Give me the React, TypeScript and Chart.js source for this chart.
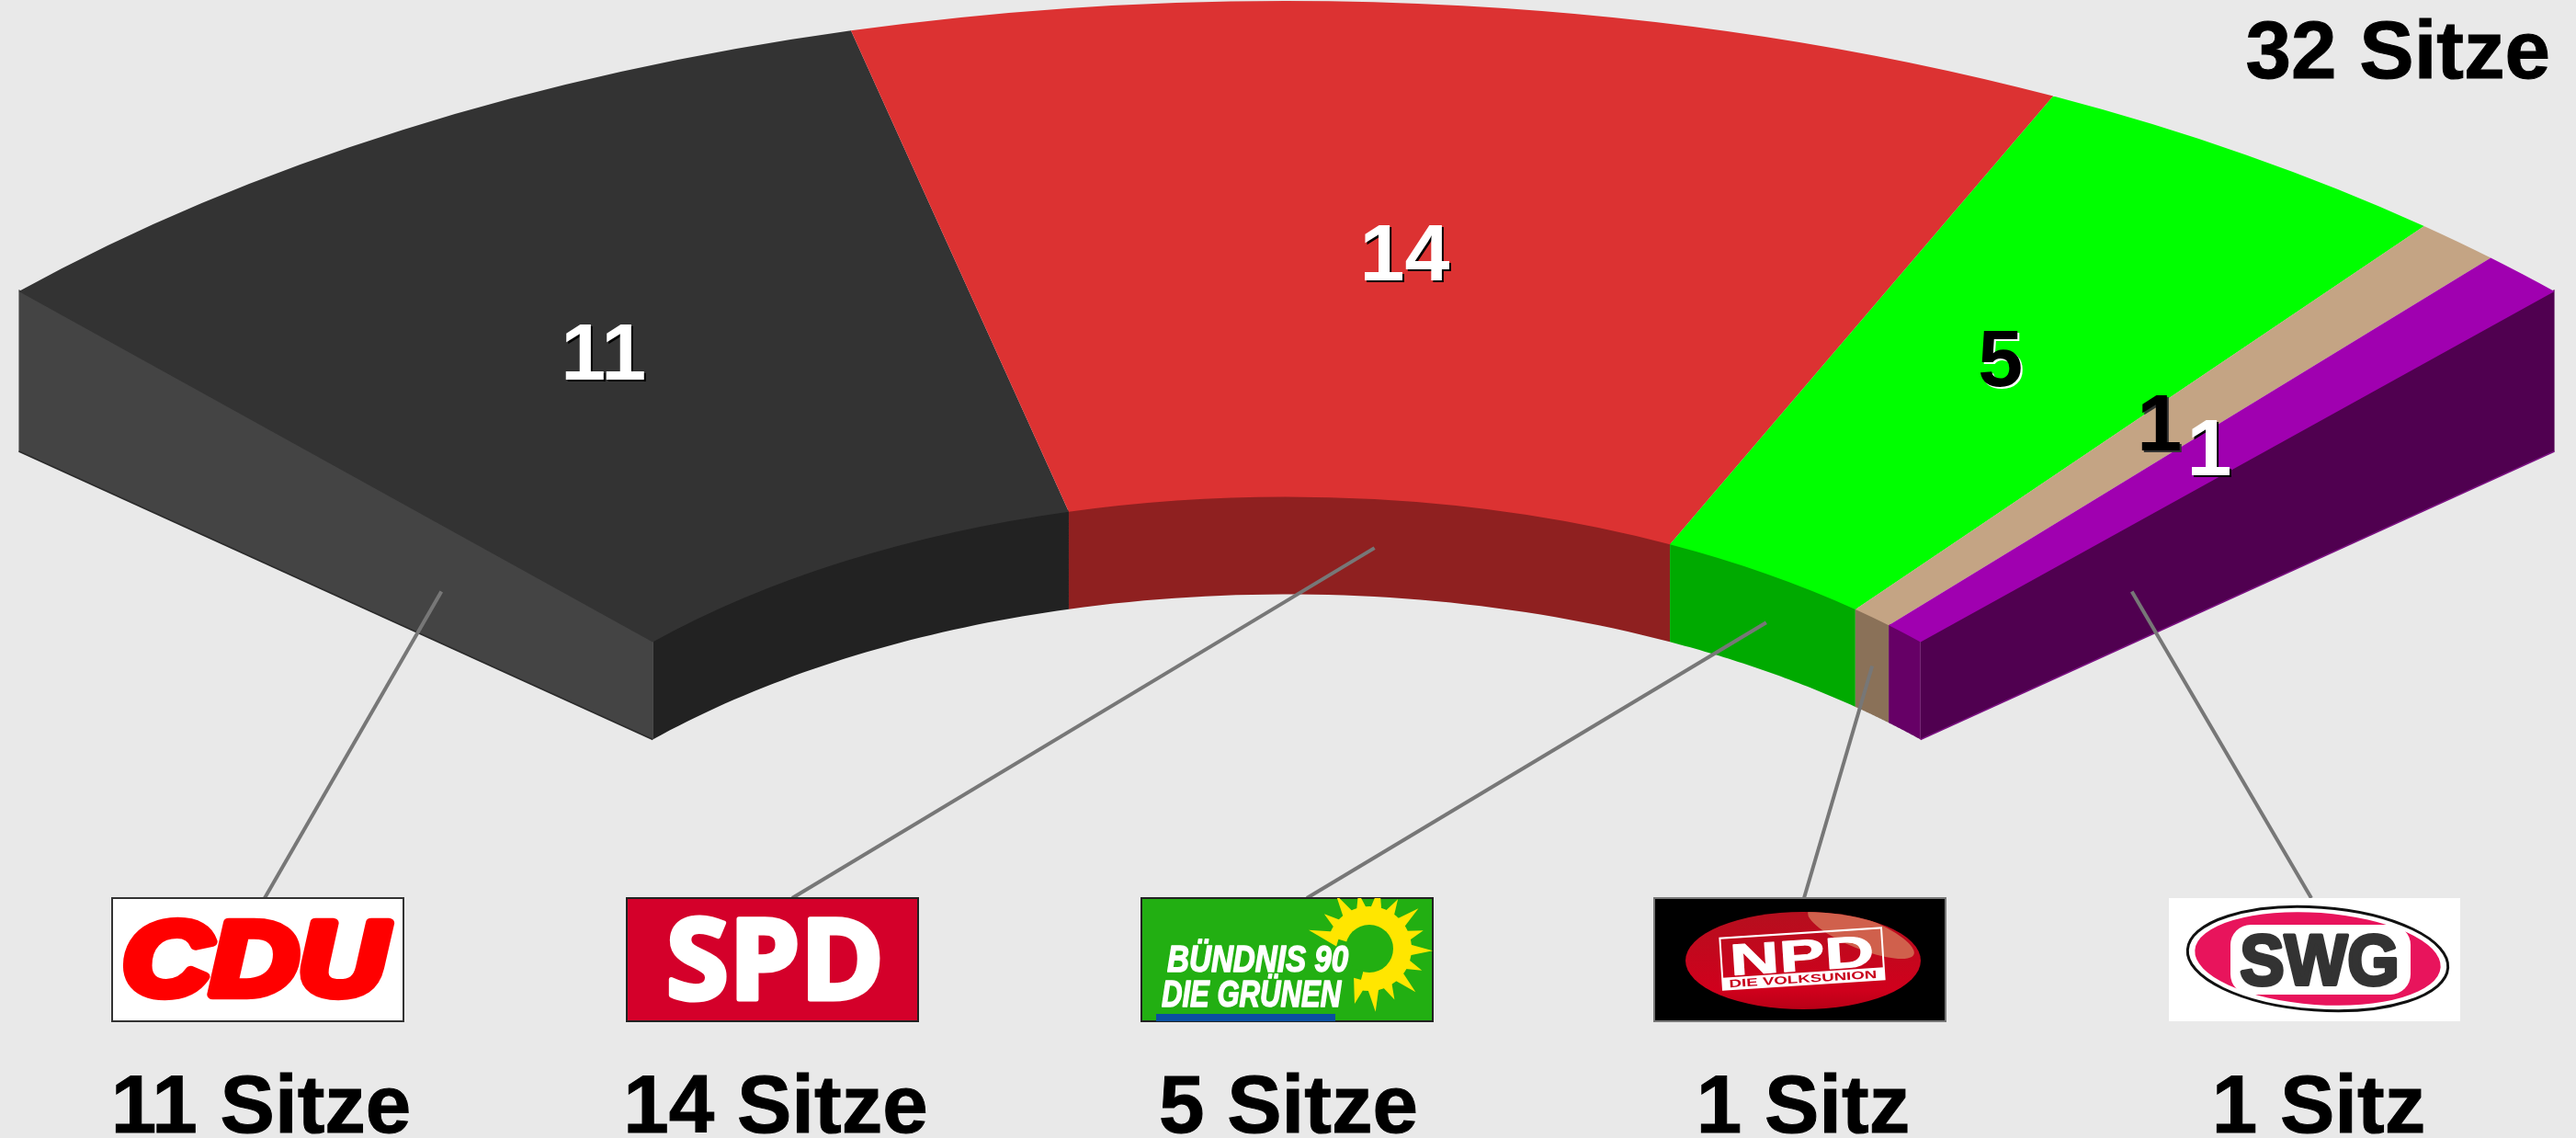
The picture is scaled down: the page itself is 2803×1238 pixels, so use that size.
import React, { useEffect, useRef } from "react";
import { Chart, registerables } from "chart.js";

Chart.register(...registerables);

const parties = ["CDU", "SPD", "Grüne", "NPD", "SWG"];
const seats = [11, 14, 5, 1, 1];
const topColors = ["#333333", "#DC3232", "#00FF00", "#C4A484", "#A000B0"];
const wallColors = ["#222222", "#8F2020", "#00AA00", "#8A7158", "#660066"];
const numberColors = ["#FFFFFF", "#FFFFFF", "#000000", "#000000", "#FFFFFF"];
const numberShadows = ["#000000", "#000000", "#FFFFFF", "#333333", "#000000"];
const numberNudgeX = [-22, -15, -6, -6, -5];
const numberNudgeY = [13, 6, -1, -1, -1];
const logoLeft = [122, 682, 1242, 1800, 2360];
const captionCentre = [284, 844, 1402, 1962, 2523];
const leaderEnds = [288, 862, 1422, 1963, 2515];

const BG = "#E9E9E9";
const FONT = '"Liberation Sans"';
const CX = 1400, CY = 1080, RX = 1951, RY = 1079;
const DEPTH_OUTER = 174, DEPTH_INNER = 106;
const LOGO_W = 317, LOGO_H = 134, LOGO_Y = 977;

type Ctx = CanvasRenderingContext2D;

function at(angle: number, r: number) {
  return { x: CX + RX * r * Math.cos(angle), y: CY + RY * r * Math.sin(angle) };
}

function depthAt(r: number) {
  return DEPTH_INNER + (DEPTH_OUTER - DEPTH_INNER) * (r - 0.5) / 0.5;
}

function fit(ctx: Ctx, text: string, font: string, x0: number, y0: number, x1: number, y1: number, color: string, extra = 0) {
  ctx.save();
  ctx.font = font;
  ctx.textAlign = "left";
  ctx.textBaseline = "alphabetic";
  const m = ctx.measureText(text);
  const w = m.actualBoundingBoxLeft + m.actualBoundingBoxRight;
  const h = m.actualBoundingBoxAscent + m.actualBoundingBoxDescent;
  const sx = (x1 - x0) / w, sy = (y1 - y0) / h;
  ctx.translate(x0 + m.actualBoundingBoxLeft * sx, y1 - m.actualBoundingBoxDescent * sy);
  ctx.scale(sx, sy);
  ctx.fillStyle = color;
  ctx.fillText(text, 0, 0);
  if (extra > 0) {
    ctx.strokeStyle = color;
    ctx.lineWidth = extra;
    ctx.lineJoin = "round";
    ctx.strokeText(text, 0, 0);
  }
  ctx.restore();
}

function frame(ctx: Ctx, i: number, fill: string, border: string | null) {
  ctx.fillStyle = fill;
  ctx.fillRect(logoLeft[i], LOGO_Y, LOGO_W, LOGO_H);
  if (border) {
    ctx.strokeStyle = border;
    ctx.lineWidth = 2;
    ctx.strokeRect(logoLeft[i], LOGO_Y, LOGO_W, LOGO_H);
  }
}

function logoCDU(ctx: Ctx) {
  frame(ctx, 0, "#FFFFFF", "#333333");
  fit(ctx, "CDU", `italic bold 120px ${FONT}`, 139, 1002, 424, 1083, "#FF0000", 11);
}

function logoSPD(ctx: Ctx) {
  frame(ctx, 1, "#D4002A", "#222222");
  fit(ctx, "SPD", 'bold 120px "Open Sans"', 730, 998, 955, 1088, "#FFFFFF", 5);
}

function logoGreen(ctx: Ctx) {
  const L = logoLeft[2];
  frame(ctx, 2, "#22AF12", "#222222");
  ctx.save();
  ctx.beginPath();
  ctx.rect(L, LOGO_Y, LOGO_W, LOGO_H);
  ctx.clip();
  const fx = 1490, fy = 1032;
  const rad = (d: number) => (d * Math.PI) / 180;
  const from = rad(197);
  const span = rad(268);
  const petals = 13;
  ctx.fillStyle = "#FFE600";
  for (let k = 0; k <= petals; k++) {
    const tip = from + (span * k) / petals;
    const reach = k % 2 ? 62 : 69;
    const spread = rad(13);
    ctx.beginPath();
    ctx.moveTo(fx + 36 * Math.cos(tip - spread), fy + 36 * Math.sin(tip - spread));
    ctx.lineTo(fx + reach * Math.cos(tip), fy + reach * Math.sin(tip));
    ctx.lineTo(fx + 36 * Math.cos(tip + spread), fy + 36 * Math.sin(tip + spread));
    ctx.closePath();
    ctx.fill();
  }
  ctx.beginPath();
  ctx.arc(fx, fy, 46, from, from + span);
  ctx.arc(fx, fy, 24, from + span, from, true);
  ctx.closePath();
  ctx.fill();
  ctx.fillStyle = "#22AF12";
  ctx.beginPath();
  ctx.arc(fx, fy, 26, 0, Math.PI * 2);
  ctx.fill();
  ctx.restore();
  fit(ctx, "BÜNDNIS 90", `italic bold 40px ${FONT}`, 1270, 1021, 1467, 1057, "#FFFFFF", 1.5);
  fit(ctx, "DIE GRÜNEN", `italic bold 40px ${FONT}`, 1264, 1059, 1460, 1095, "#FFFFFF", 1.5);
  ctx.fillStyle = "#0A4FA0";
  ctx.fillRect(1258, 1103, 195, 8);
}

function logoNPD(ctx: Ctx) {
  frame(ctx, 3, "#000000", "#777777");
  const ex = 1962, ey = 1045;
  ctx.save();
  const grad = ctx.createLinearGradient(ex, ey - 53, ex, ey + 53);
  grad.addColorStop(0, "#B50F1E");
  grad.addColorStop(0.8, "#D0001C");
  grad.addColorStop(1, "#B80016");
  ctx.fillStyle = grad;
  ctx.beginPath();
  ctx.ellipse(ex, ey, 128, 53, 0, 0, Math.PI * 2);
  ctx.fill();
  ctx.clip();
  ctx.fillStyle = "#D0604C";
  ctx.beginPath();
  ctx.ellipse(2025, 1015, 62, 17, (22 * Math.PI) / 180, 0, Math.PI * 2);
  ctx.fill();
  ctx.restore();
  ctx.save();
  ctx.translate(1961, 1043);
  ctx.rotate((-3.7 * Math.PI) / 180);
  ctx.strokeStyle = "#FFFFFF";
  ctx.lineWidth = 2;
  ctx.strokeRect(-88, -28, 176, 56);
  ctx.fillStyle = "#FFFFFF";
  ctx.fillRect(-88, 15, 176, 13);
  fit(ctx, "NPD", `bold 48px ${FONT}`, -74, -20, 76, 13, "#FFFFFF", 1);
  fit(ctx, "DIE VOLKSUNION", `bold 12px ${FONT}`, -81, 17, 79, 26, "#C8001C");
  ctx.restore();
}

function logoSWG(ctx: Ctx) {
  frame(ctx, 4, "#FFFFFF", null);
  ctx.save();
  ctx.translate(2522, 1043);
  ctx.rotate((4 * Math.PI) / 180);
  ctx.strokeStyle = "#111111";
  ctx.lineWidth = 3;
  ctx.beginPath();
  ctx.ellipse(0, 0, 142, 56, 0, 0, Math.PI * 2);
  ctx.stroke();
  ctx.fillStyle = "#E8145C";
  ctx.beginPath();
  ctx.ellipse(0, 0, 134, 50, 0, 0, Math.PI * 2);
  ctx.fill();
  ctx.restore();
  ctx.fillStyle = "#FFFFFF";
  ctx.beginPath();
  ctx.roundRect(2427, 1006, 196, 76, 22);
  ctx.fill();
  fit(ctx, "SWG", `bold 80px ${FONT}`, 2439, 1016, 2607, 1072, "#333333", 4);
}

const logoPainters = [logoCDU, logoSPD, logoGreen, logoNPD, logoSWG];

function heavyText(ctx: Ctx, text: string, x: number, y: number) {
  ctx.fillText(text, x, y);
  ctx.lineWidth = 1;
  ctx.strokeStyle = ctx.fillStyle as string;
  ctx.strokeText(text, x, y);
}

const parliamentPlugin = {
  id: "parliament",
  beforeDraw(chart: any) {
    const ctx: Ctx = chart.ctx;
    ctx.save();
    ctx.fillStyle = BG;
    ctx.fillRect(0, 0, chart.width, chart.height);
    ctx.restore();
  },
  beforeDatasetsDraw(chart: any) {
    const ctx: Ctx = chart.ctx;
    const arcs = chart.getDatasetMeta(0).data;
    arcs.forEach((arc: any, i: number) => {
      ctx.fillStyle = wallColors[i];
      ctx.beginPath();
      const steps = 40;
      for (let s = 0; s <= steps; s++) {
        const p = at(arc.startAngle + ((arc.endAngle - arc.startAngle) * s) / steps, 0.5);
        if (s === 0) ctx.moveTo(p.x, p.y - 2);
        else ctx.lineTo(p.x, p.y - 2);
      }
      for (let s = steps; s >= 0; s--) {
        const p = at(arc.startAngle + ((arc.endAngle - arc.startAngle) * s) / steps, 0.5);
        ctx.lineTo(p.x, p.y + DEPTH_INNER);
      }
      ctx.closePath();
      ctx.fill();
    });
    const endFace = (angle: number, color: string, edge: string) => {
      const a = at(angle, 1), b = at(angle, 0.5);
      ctx.fillStyle = color;
      ctx.beginPath();
      ctx.moveTo(a.x, a.y - 2);
      ctx.lineTo(a.x, a.y + DEPTH_OUTER);
      ctx.lineTo(b.x, b.y + DEPTH_INNER);
      ctx.lineTo(b.x, b.y - 2);
      ctx.closePath();
      ctx.fill();
      ctx.strokeStyle = edge;
      ctx.lineWidth = 1.5;
      ctx.beginPath();
      ctx.moveTo(a.x, a.y + DEPTH_OUTER);
      ctx.lineTo(b.x, b.y + DEPTH_INNER);
      ctx.stroke();
    };
    endFace(arcs[0].startAngle, "#444444", "#2A2A2A");
    endFace(arcs[arcs.length - 1].endAngle, "#500050", "#7A1080");
    // The doughnut's own arcs are drawn through this flattening transform.
    const a0 = arcs[0];
    ctx.save();
    ctx.translate(CX, CY);
    ctx.scale(RX / a0.outerRadius, RY / a0.outerRadius);
    ctx.translate(-a0.x, -a0.y);
  },
  afterDatasetsDraw(chart: any) {
    const ctx: Ctx = chart.ctx;
    ctx.restore();
    const arcs = chart.getDatasetMeta(0).data;
    const last = arcs.length - 1;

    ctx.save();
    ctx.textAlign = "center";
    ctx.textBaseline = "middle";
    ctx.font = `bold 88px ${FONT}`;
    arcs.forEach((arc: any, i: number) => {
      const mid = (arc.startAngle + arc.endAngle) / 2;
      const p = at(mid, 0.75);
      const text = String(seats[i]);
      const x = p.x + numberNudgeX[i];
      const y = p.y + numberNudgeY[i];
      ctx.fillStyle = numberShadows[i];
      ctx.fillText(text, x + 2, y + 2);
      ctx.fillStyle = numberColors[i];
      ctx.fillText(text, x, y);
    });
    ctx.restore();

    ctx.save();
    ctx.strokeStyle = "#777777";
    ctx.lineWidth = 4;
    arcs.forEach((arc: any, i: number) => {
      let s;
      if (i === 0 || i === last) {
        const p = at(i === 0 ? arc.startAngle : arc.endAngle, 2 / 3);
        s = { x: p.x, y: p.y + depthAt(2 / 3) * 0.56 };
      } else {
        const p = at((arc.startAngle + arc.endAngle) / 2, 0.5);
        s = { x: p.x, y: p.y + DEPTH_INNER / 2 };
      }
      ctx.beginPath();
      ctx.moveTo(s.x, s.y);
      ctx.lineTo(leaderEnds[i], LOGO_Y);
      ctx.stroke();
    });
    ctx.restore();

    logoPainters.forEach((paint) => paint(ctx));

    ctx.save();
    ctx.fillStyle = "#000000";
    ctx.font = `bold 89px ${FONT}`;
    ctx.textBaseline = "alphabetic";
    ctx.textAlign = "center";
    seats.forEach((n, i) => {
      heavyText(ctx, `${n} ${n === 1 ? "Sitz" : "Sitze"}`, captionCentre[i], 1232);
    });
    ctx.textAlign = "right";
    const total = seats.reduce((a, b) => a + b, 0);
    heavyText(ctx, `${total} Sitze`, 2775, 85);
    ctx.restore();
  },
};

export default function App() {
  const ref = useRef<HTMLCanvasElement | null>(null);
  useEffect(() => {
    const chart = new Chart(ref.current as HTMLCanvasElement, {
      type: "doughnut",
      data: {
        labels: parties,
        datasets: [
          {
            data: seats,
            backgroundColor: topColors,
            borderWidth: 0,
            clip: false,
          } as any,
        ],
      },
      options: {
        animation: false,
        responsive: false,
        rotation: -45,
        circumference: 90,
        cutout: "50%",
        layout: { padding: 0 },
        plugins: { legend: { display: false }, tooltip: { enabled: false } },
      },
      plugins: [parliamentPlugin],
    });
    return () => chart.destroy();
  }, []);
  return (
    <div style={{ position: "fixed", left: 0, top: 0, width: 2803, height: 1238, background: BG, overflow: "hidden" }}>
      <canvas ref={ref} width={2803} height={1238} style={{ display: "block" }} />
    </div>
  );
}
